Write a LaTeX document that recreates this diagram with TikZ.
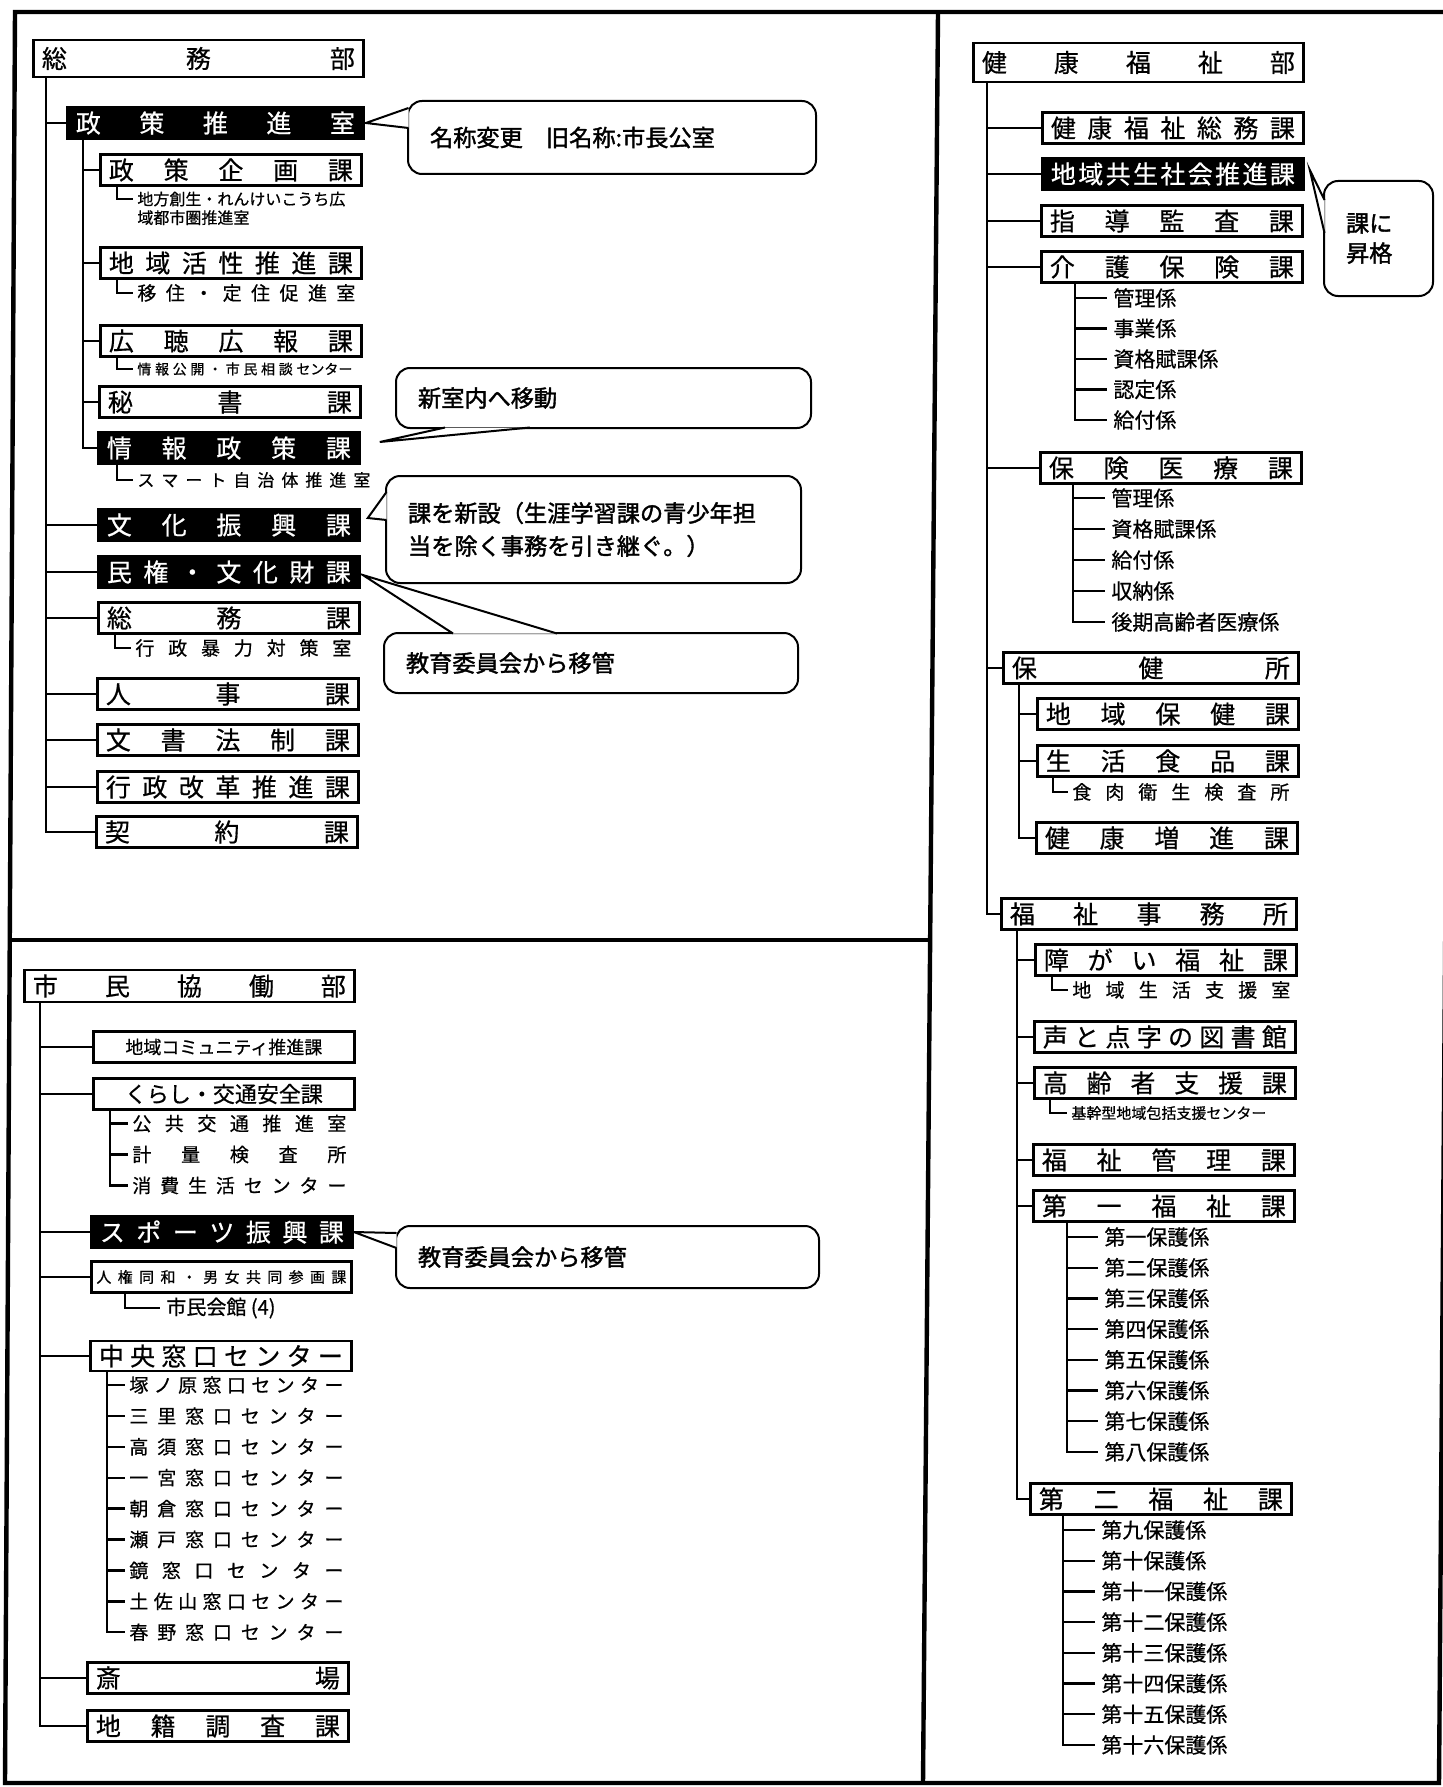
\documentclass[tikz,border=0pt]{standalone}
\usepackage{fontspec}
\setmainfont{Noto Sans CJK JP}[FakeBold=0.6]
\newfontfamily\futo{Noto Sans CJK JP}[FakeBold=1.6]
\usetikzlibrary{positioning,calc}

\newcommand\wari[2]{\makebox[#1][s]{\spaceskip=0pt plus 1fil\relax #2}}
\newcommand\kawari[1]{\wari{122pt}{#1}}
\newcommand\kafont{\fontsize{12.5}{13}\selectfont}

\tikzset{
  ka/.style={draw,line width=1.4pt,fill=white,minimum width=130.5pt,minimum height=15.5pt,
    inner xsep=4pt,inner ysep=0pt,anchor=west,font=\kafont},
  kuro/.style={ka,fill=black,text=white},
  kakari/.style={anchor=west,inner xsep=3pt,inner ysep=0pt,font=\fontsize{10.5}{11}\selectfont},
  chu/.style={anchor=west,inner xsep=2pt,inner ysep=0pt,font=\fontsize{9.5}{10}\selectfont},
  sho/.style={anchor=west,inner xsep=2pt,inner ysep=0pt,font=\fontsize{8}{9}\selectfont},
}

\begin{document}
\begin{tikzpicture}[
  x=0.5pt,y=-0.5pt,
  sen/.style={line width=1.2pt},
  waku/.style={line width=2.2pt},
  fuki/.style={draw,line width=1pt,rounded corners=7pt,anchor=north west,inner xsep=11pt,
    align=left,font=\futo\fontsize{11.6}{16.5}\selectfont},
  kuchi/.style={draw,fill=white,line width=1pt,line join=miter}
]
\fill[white] (0,0) rectangle (1442,1787);
\useasboundingbox (0,0) rectangle (1442,1787);

\draw[waku] (15,12) -- (1452,12) -- (1439,1783) -- (5,1783) -- cycle;
\draw[waku] (938,12) -- (923,1783);
\draw[line width=2pt] (10,940) -- (930,940);

% 総務部
\node[ka,minimum width=165pt,minimum height=18.5pt] (somu) at (32,58.5) {\wari{156.5pt}{総 務 部}};
\node[kuro,minimum width=148pt,minimum height=16pt] (seisaku) at (66,123) {\wari{139.5pt}{政 策 推 進 室}};
\node[ka] (kikaku) at (99,170) {\kawari{政 策 企 画 課}};
\node[ka] (kassei) at (99,263) {\kawari{地 域 活 性 推 進 課}};
\node[ka] (kocho) at (99,341) {\kawari{広 聴 広 報 課}};
\node[ka] (hisho) at (98,402) {\kawari{秘 書 課}};
\node[kuro] (joho) at (97,448) {\kawari{情 報 政 策 課}};
\node[kuro] (bunka) at (97,525) {\kawari{文 化 振 興 課}};
\node[kuro] (minken) at (97,572) {\kawari{民 権 ・ 文 化 財 課}};
\node[ka] (somuka) at (97,618) {\kawari{総 務 課}};
\node[ka] (jinji) at (96,694) {\kawari{人 事 課}};
\node[ka] (bunsho) at (96,740) {\kawari{文 書 法 制 課}};
\node[ka] (gyokaku) at (96,787) {\kawari{行 政 改 革 推 進 課}};
\node[ka] (keiyaku) at (95,832) {\kawari{契 約 課}};

\node[sho] (sosei) at (133,199) {地方創生・れんけいこうち広};
\node[sho,below=1.5pt of sosei.south west,anchor=north west] (sosei2) {域都市圏推進室};
\node[chu] (ijuu) at (133,293) {\wari{109pt}{移 住 ・ 定 住 促 進 室}};
\node[sho,font=\fontsize{7}{8}\selectfont] (kokai) at (133,369) {\wari{107.5pt}{情 報 公 開 ・ 市 民 相 談 センター}};
\node[chu,font=\fontsize{8.5}{9}\selectfont] (smart) at (133,480) {\wari{116.5pt}{ス マ ー ト 自 治 体 推 進 室}};
\node[chu] (boryoku) at (131,648) {\wari{108pt}{行 政 暴 力 対 策 室}};

\coordinate (t1) at ([xshift=7pt]somu.south west);
\foreach \n in {seisaku,bunka,minken,somuka,jinji,bunsho,gyokaku,keiyaku}
  \draw[sen] (t1) |- (\n.west);
\coordinate (t2) at ([xshift=8.5pt]seisaku.south west);
\foreach \n in {kikaku,kassei,kocho,hisho,joho}
  \draw[sen] (t2) |- (\n.west);
\draw[sen] ([xshift=9pt]kikaku.south west) |- (sosei.west);
\draw[sen] ([xshift=9pt]kassei.south west) |- (ijuu.west);
\draw[sen] ([xshift=9pt]kocho.south west) |- (kokai.west);
\draw[sen] ([xshift=10pt]joho.south west) |- (smart.west);
\draw[sen] ([xshift=9pt]somuka.south west) |- (boryoku.west);

% 市民協働部
\node[ka,minimum width=165pt,minimum height=16pt] (shimin) at (23,986) {\wari{156.5pt}{市 民 協 働 部}};
\node[ka,font=\fontsize{9}{10}\selectfont] (komyu) at (92,1047) {地域コミュニティ推進課};
\node[ka,font=\fontsize{11}{12}\selectfont] (kurashi) at (92,1094) {くらし・交通安全課};
\foreach \lbl [count=\i] in {公 共 交 通 推 進 室,計 量 検 査 所,消 費 生 活 セ ン タ ー} {
  \node[chu] (kurashi\i) at (128,1092.5+31*\i) {\wari{107pt}{\lbl}};
  \draw[sen] ([xshift=9pt]kurashi.south west) |- (kurashi\i.west);
}
\node[kuro] (sports) at (90,1232) {\kawari{ス ポ ー ツ 振 興 課}};
\node[ka,minimum width=130pt,inner xsep=2pt,font=\fontsize{7.5}{8}\selectfont] (jinken) at (90,1277)
  {\wari{125pt}{人 権 同 和 ・ 男 女 共 同 参 画 課}};
\node[kakari,font=\fontsize{10}{11}\selectfont] (kaikan) at (160,1308) {市民会館 (4)};
\draw[sen] ([xshift=17.5pt]jinken.south west) |- (kaikan.west);
\node[ka,minimum height=15pt] (chuo) at (89,1356) {\kawari{中 央 窓 口 セ ン タ ー}};
\foreach \lbl [count=\i] in {塚 ノ 原 窓 口 セ ン タ ー,三 里 窓 口 セ ン タ ー,高 須 窓 口 セ ン タ ー,
    一 宮 窓 口 セ ン タ ー,朝 倉 窓 口 セ ン タ ー,瀬 戸 窓 口 セ ン タ ー,鏡 窓 口 セ ン タ ー,
    土 佐 山 窓 口 セ ン タ ー,春 野 窓 口 セ ン タ ー} {
  \node[chu] (mado\i) at (125,1354.1+30.9*\i) {\wari{107pt}{\lbl}};
  \draw[sen] ([xshift=9pt]chuo.south west) |- (mado\i.west);
}
\node[ka] (saijo) at (86,1678) {\kawari{斎 場}};
\node[ka] (chiseki) at (86,1726) {\kawari{地 籍 調 査 課}};
\coordinate (t3) at ([xshift=8.5pt]shimin.south west);
\foreach \n in {komyu,kurashi,sports,jinken,chuo,saijo,chiseki}
  \draw[sen] (t3) |- (\n.west);

% 健康福祉部
\node[ka,minimum width=165pt,minimum height=19.5pt] (kenko) at (972,62.5) {\wari{156.5pt}{健 康 福 祉 部}};
\node[ka] (kfsomu) at (1041,128) {\kawari{健 康 福 祉 総 務 課}};
\node[kuro] (kyosei) at (1041,174) {\kawari{地 域 共 生 社 会 推 進 課}};
\node[ka] (shido) at (1040,221) {\kawari{指 導 監 査 課}};
\node[ka] (kaigo) at (1040,267) {\kawari{介 護 保 険 課}};
\foreach \lbl [count=\i] in {管理係,事業係,資格賦課係,認定係,給付係} {
  \node[kakari] (kaigo\i) at (1107,267.5+30.5*\i) {\lbl};
  \draw[sen] ([xshift=17.5pt]kaigo.south west) |- (kaigo\i.west);
}
\node[ka] (iryo) at (1039,468) {\kawari{保 険 医 療 課}};
\foreach \lbl [count=\i] in {管理係,資格賦課係,給付係,収納係,後期高齢者医療係} {
  \node[kakari] (iryo\i) at (1105,467+31*\i) {\lbl};
  \draw[sen] ([xshift=17pt]iryo.south west) |- (iryo\i.west);
}
\node[ka,minimum width=147.5pt] (hokenjo) at (1002,668) {\wari{139pt}{保 健 所}};
\node[ka] (chiikihoken) at (1036,714) {\kawari{地 域 保 健 課}};
\node[ka] (seikatsu) at (1036,761) {\kawari{生 活 食 品 課}};
\node[chu] (shokuniku) at (1068,792) {\wari{108.5pt}{食 肉 衛 生 検 査 所}};
\draw[sen] ([xshift=8.5pt]seikatsu.south west) |- (shokuniku.west);
\node[ka] (zoshin) at (1035,838) {\kawari{健 康 増 進 課}};
\coordinate (t5) at ([xshift=8.5pt]hokenjo.south west);
\foreach \n in {chiikihoken,seikatsu,zoshin}
  \draw[sen] (t5) |- (\n.west);

\node[ka,minimum width=147.5pt] (jimusho) at (1000,914) {\wari{139pt}{福 祉 事 務 所}};
\coordinate (t4) at ([xshift=7.5pt]kenko.south west);
\foreach \n in {kfsomu,kyosei,shido,kaigo,iryo,hokenjo,jimusho}
  \draw[sen] (t4) |- (\n.west);

\node[ka] (shogai) at (1034,960) {\kawari{障 が い 福 祉 課}};
\node[chu] (seikatsushien) at (1068,990) {\wari{109pt}{地 域 生 活 支 援 室}};
\draw[sen] ([xshift=9pt]shogai.south west) |- (seikatsushien.west);
\node[ka] (tosho) at (1033,1037) {\kawari{声 と 点 字 の 図 書 館}};
\node[ka] (koreisha) at (1033,1083) {\kawari{高 齢 者 支 援 課}};
\node[sho,font=\fontsize{7.5}{8}\selectfont] (kikan) at (1067,1113) {基幹型地域包括支援センター};
\draw[sen] ([xshift=8.5pt]koreisha.south west) |- (kikan.west);
\node[ka] (kanri) at (1032,1160) {\kawari{福 祉 管 理 課}};
\node[ka] (daiichi) at (1032,1206) {\kawari{第 一 福 祉 課}};
\foreach \lbl [count=\i] in {第一保護係,第二保護係,第三保護係,第四保護係,第五保護係,
    第六保護係,第七保護係,第八保護係} {
  \node[kakari] (hogo\i) at (1098,1206.3+30.7*\i) {\lbl};
  \draw[sen] ([xshift=17.5pt]daiichi.south west) |- (hogo\i.west);
}
\node[ka] (daini) at (1029,1499) {\kawari{第 二 福 祉 課}};
\foreach \lbl [count=\i] in {第九保護係,第十保護係,第十一保護係,第十二保護係,第十三保護係,
    第十四保護係,第十五保護係,第十六保護係} {
  \node[kakari] (hogob\i) at (1095,1499.3+30.7*\i) {\lbl};
  \draw[sen] ([xshift=17pt]daini.south west) |- (hogob\i.west);
}
\coordinate (t6) at ([xshift=8.5pt]jimusho.south west);
\foreach \n in {shogai,tosho,koreisha,kanri,daiichi,daini}
  \draw[sen] (t6) |- (\n.west);

% 吹き出し
\node[fuki,minimum width=204pt,minimum height=36.5pt,text width=182pt] (f1) at (407,100) {名称変更\quad 旧名称:市長公室};
\filldraw[kuchi] ($(f1.north west)+(1.5,8)$) -- ([xshift=0.5pt]seisaku.east) -- ($(f1.north west)+(1.5,28)$);

\node[fuki,minimum width=207.5pt,minimum height=30pt,text width=185.5pt] (f2) at (395,367) {新室内へ移動};
\filldraw[kuchi] ($(f2.south west)+(50,-1.5)$) -- ($(joho.east)+(19,-6)$) -- ($(f2.south west)+(135,-1.5)$);

\node[fuki,minimum width=207.5pt,minimum height=53.5pt,text width=185.5pt] (f3) at (385,475)
  {課を新設（生涯学習課の青少年担\\当を除く事務を引き継ぐ。）};
\filldraw[kuchi] ($(f3.north west)+(1.5,17)$) -- ($(bunka.east)+(7,-7)$) -- ($(f3.north west)+(1.5,45)$);

\node[fuki,minimum width=207pt,minimum height=30pt,text width=185pt] (f4) at (383,632) {教育委員会から移管};
\filldraw[kuchi] ($(f4.north west)+(70,1.5)$) -- ($(minken.east)+(2,3)$) -- ($(f4.north west)+(174,1.5)$);

\node[fuki,minimum width=54.5pt,minimum height=57.5pt,text width=32.5pt,font=\futo\fontsize{11.6}{15}\selectfont] (f5) at (1323,180) {課に\\昇格};
\filldraw[kuchi] ($(f5.north west)+(1.5,20)$) -- ($(kyosei.east)+(5,-4)$) -- ($(f5.north west)+(1.5,53)$);

\node[fuki,minimum width=211.5pt,minimum height=31pt,text width=189.5pt] (f6) at (395,1225) {教育委員会から移管};
\filldraw[kuchi] ($(f6.north west)+(1.5,8)$) -- (sports.east) -- ($(f6.north west)+(1.5,23)$);

\end{tikzpicture}
\end{document}
